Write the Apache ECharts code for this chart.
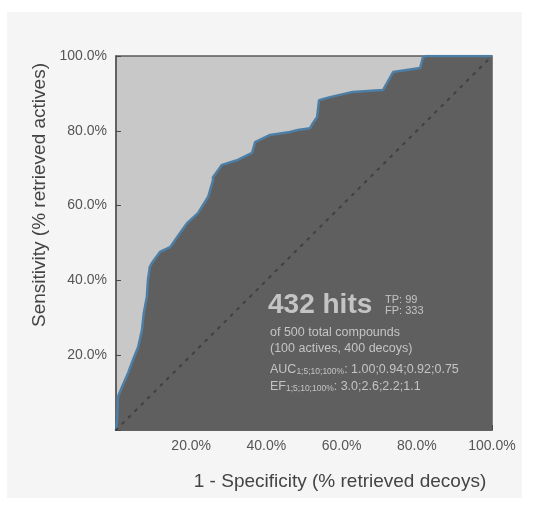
<!DOCTYPE html>
<html>
<head>
<meta charset="utf-8">
<script src="https://cdn.jsdelivr.net/npm/echarts@6/dist/echarts.min.js"></script>
<style>
  html, body { margin: 0; padding: 0; background: #ffffff; }
  #panel { position: absolute; left: 7px; top: 12px; width: 515px; height: 486px; background: #f5f5f5; }
  #chart { position: absolute; left: 0; top: 0; width: 537px; height: 510px; }
</style>
</head>
<body>
<div id="panel"></div>
<div id="chart"></div>
<script>
// ROC curve (percent)
const fpr = [0, 0.3, 0.5, 1.6, 3.2, 4.5, 5.9, 6.9, 7.4, 8.2, 8.5, 9.0, 9.6, 11.7, 14.4, 17.6, 18.9, 21.8, 24.5, 25.8,
  25.8, 28.2, 32.4, 36.2, 37.0, 41.0, 46.3, 48.4, 51.6, 52.1, 53.5, 54.0, 56.9, 63.0, 71.0, 72.1, 73.7, 80.9, 81.6, 82.5, 100]
const tpr = [0, 2.7, 8.8, 11.5, 15.2, 18.7, 22.2, 26.7, 31.3, 35.6, 40.1, 43.6, 44.7, 47.6, 48.9, 53.5, 55.3, 58.0, 62.3, 66.8,
  67.6, 70.9, 72.2, 74.1, 77.0, 78.9, 79.7, 80.2, 80.7, 81.6, 83.7, 88.2, 89.0, 90.4, 90.9, 92.8, 95.7, 96.8, 99.5, 100, 100]
const randomLine = [[0, 0], [100, 100]]

const xTitle = '1 - Specificity (% retrieved decoys)'
const yTitle = 'Sensitivity (% retrieved actives)'
const hitsText = '432 hits'
const tpText = 'TP: 99'
const fpText = 'FP: 333'
const totalText = 'of 500 total compounds'
const splitText = '(100 actives, 400 decoys)'
const aucValues = '1.00;0.94;0.92;0.75'
const efValues = '3.0;2.6;2.2;1.1'
const subLabel = '1;5;10;100%'

const FONT = 'Liberation Sans'
const TXT = '#c4c4c4'
const curve = fpr.map((x, i) => [x, tpr[i]])
const pct = v => (v === 0 ? '' : v.toFixed(1) + '%')

// rich styles for the AUC / EF lines with subscript
const subRich = {
  m: {fontFamily: FONT, fontSize: 12.5, fill: TXT, verticalAlign: 'bottom', lineHeight: 16},
  s: {fontFamily: FONT, fontSize: 8.5, fill: TXT, verticalAlign: 'bottom', lineHeight: 12},
}

const chart = echarts.init(document.getElementById('chart'))

chart.setOption({
  backgroundColor: 'transparent',
  animation: false,
  grid: {
    left: 116, top: 56, width: 376, height: 374,
    outerBoundsMode: 'none',
    containLabel: false,
    show: true,
    backgroundColor: '#c8c8c8',
    borderColor: '#5a5a5a',
    borderWidth: 1.5,
  },
  xAxis: {
    type: 'value', min: 0, max: 100, interval: 20,
    axisLine: {show: true, lineStyle: {color: '#5a5a5a', width: 1.5}},
    axisTick: {show: true, inside: true, length: 5, lineStyle: {color: '#4a4a4a'}},
    axisLabel: {formatter: pct, fontFamily: FONT, fontSize: 14, color: '#555', margin: 9},
    splitLine: {show: false},
  },
  yAxis: {
    type: 'value', min: 0, max: 100, interval: 20,
    axisLine: {show: true, lineStyle: {color: '#5a5a5a', width: 1.5}},
    axisTick: {show: true, inside: true, length: 5, lineStyle: {color: '#4a4a4a'}},
    axisLabel: {formatter: pct, fontFamily: FONT, fontSize: 14, color: '#555', margin: 9},
    splitLine: {show: false},
  },
  series: [
    {
      type: 'line',
      data: curve,
      showSymbol: false,
      z: 2,
      lineStyle: {color: '#4d7fa6', width: 2.5},
      areaStyle: {color: '#5f5f5f', opacity: 1},
    },
    {
      type: 'line',
      data: randomLine,
      showSymbol: false,
      z: 3,
      lineStyle: {color: '#404040', width: 2, type: [2, 7], cap: 'round'},
    },
  ],
  graphic: [
    {type: 'text', x: 340, y: 482, z: 10,
      style: {text: xTitle, fontFamily: FONT, fontSize: 19, fill: '#444', align: 'center', verticalAlign: 'middle'}},
    {type: 'text', x: 40, y: 195, rotation: Math.PI / 2, z: 10,
      style: {text: yTitle, fontFamily: FONT, fontSize: 19, fill: '#444', align: 'center', verticalAlign: 'middle'}},
    {type: 'text', left: 268, top: 291, z: 10,
      style: {text: hitsText, fontFamily: FONT, fontSize: 28, fontWeight: 'bold', fill: TXT}},
    {type: 'text', left: 385, top: 294, z: 10,
      style: {text: tpText, fontFamily: FONT, fontSize: 11, fill: TXT}},
    {type: 'text', left: 385, top: 305, z: 10,
      style: {text: fpText, fontFamily: FONT, fontSize: 11, fill: TXT}},
    {type: 'text', left: 270, top: 326, z: 10,
      style: {text: totalText, fontFamily: FONT, fontSize: 12.5, fill: TXT}},
    {type: 'text', left: 270, top: 342, z: 10,
      style: {text: splitText, fontFamily: FONT, fontSize: 12.5, fill: TXT}},
    {type: 'text', left: 270, top: 363, z: 10,
      style: {text: '{m|AUC}{s|' + subLabel + '}{m|: ' + aucValues + '}', rich: subRich}},
    {type: 'text', left: 270, top: 380, z: 10,
      style: {text: '{m|EF}{s|' + subLabel + '}{m|: ' + efValues + '}', rich: subRich}},
  ],
})
</script>
</body>
</html>
